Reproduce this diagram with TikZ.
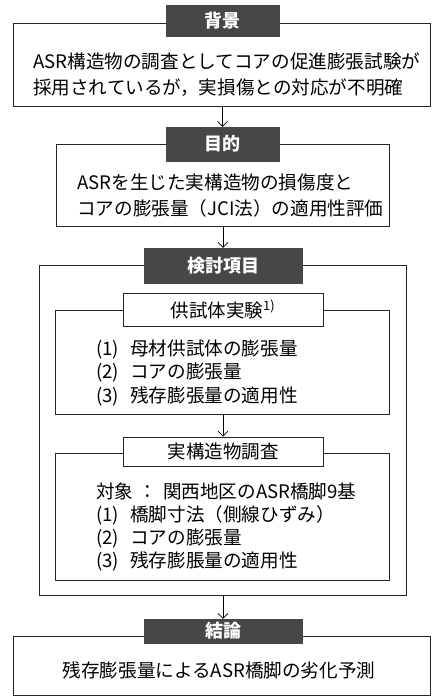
\documentclass[tikz,border=0pt]{standalone}
\usepackage{fontspec}
\setmainfont{Noto Sans CJK JP}
\usetikzlibrary{arrows.meta}
\begin{document}
\begin{tikzpicture}[x=1pt,y=-1pt,
 frame/.style={draw=black!85,line width=0.9pt,inner sep=0},
 darklabel/.style={fill=black!72,draw=black!72,text=white,font=\fontsize{18}{20}\selectfont\bfseries,inner sep=0},
 whitelabel/.style={fill=white,draw=black!85,line width=0.9pt,font=\fontsize{18.5}{20}\selectfont,inner sep=0},
 body/.style={font=\fontsize{18.6}{26}\selectfont,align=left,inner sep=0,anchor=west},
 arr/.style={-{Straight Barb[length=5pt,width=10pt]},line width=0.7pt}]
\useasboundingbox (0,0) rectangle (432,697);
\fill[white] (0,0) rectangle (432,697);
% frames
\node[frame,minimum width=417pt,minimum height=83pt] (b1) at (221.5,64.5) {};
\node[frame,minimum width=333pt,minimum height=82pt] (b2) at (222.5,185) {};
\node[frame,minimum width=367pt,minimum height=330pt] (b3) at (222.5,430) {};
\node[frame,minimum width=334pt,minimum height=104pt] (s1) at (222,362) {};
\node[frame,minimum width=334pt,minimum height=127pt] (s2) at (222,516.5) {};
\node[frame,minimum width=417pt,minimum height=59pt] (b4) at (221.5,665.5) {};
% labels
\node[darklabel,minimum width=113pt,minimum height=31pt] (l1) at (222.5,20.5) {背景};
\node[darklabel,minimum width=113pt,minimum height=34pt] (l2) at (222.5,144) {目的};
\node[darklabel,minimum width=158pt,minimum height=35pt] (l3) at (223,265.5) {検討項目};
\node[whitelabel,minimum width=200pt,minimum height=33pt] (sl1) at (223,309.5) {供試体実験\textsuperscript{1)}};
\node[whitelabel,minimum width=200pt,minimum height=29pt] (sl2) at (223,451.5) {実構造物調査};
\node[darklabel,minimum width=158pt,minimum height=24pt] (l4) at (223,631) {結論};
% texts
\node[body] (t1) at (33,75) {ASR構造物の調査としてコアの促進膨張試験が\\採用されているが，実損傷との対応が不明確};
\node[body] (t2) at (77,195.5) {ASRを生じた実構造物の損傷度と\\コアの膨張量（JCI法）の適用性評価};
\node[body,font=\fontsize{18.6}{23.5}\selectfont] (t3) at (96,373) {(1)\hspace{0.6em}母材供試体の膨張量\\(2)\hspace{0.6em}コアの膨張量\\(3)\hspace{0.6em}残存膨張量の適用性};
\node[body,font=\fontsize{18.6}{23}\selectfont] (t4) at (96,526.5) {対象\hspace{0.3em}：\hspace{0.3em}関西地区のASR橋脚9基\\(1)\hspace{0.6em}橋脚寸法（側線ひずみ）\\(2)\hspace{0.6em}コアの膨張量\\(3)\hspace{0.6em}残存膨脹量の適用性};
\node[font=\fontsize{18.6}{23}\selectfont,inner sep=0] (t5) at (219,670) {残存膨張量によるASR橋脚の劣化予測};
% arrows
\draw[arr] (l2.north |- b1.south) -- (l2.north);
\draw[arr] (l3.north |- b2.south) -- (l3.north);
\draw[arr] (sl2.north |- s1.south) -- (sl2.north);
\draw[arr] (l4.north |- b3.south) -- (l4.north);
\end{tikzpicture}
\end{document}
